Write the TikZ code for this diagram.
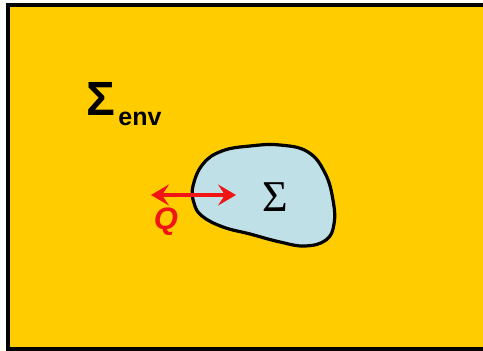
\documentclass[tikz,border=0pt]{standalone}
\usepackage{fontspec}
\setmainfont{Liberation Serif}
\setsansfont{Liberation Sans}
\definecolor{envYellow}{RGB}{255, 204, 0}
\definecolor{sysBlue}{RGB}{190, 224, 230}
\definecolor{heatRed}{RGB}{240, 20, 20}
\usetikzlibrary{arrows.meta, positioning}
\tikzset{
  envbox/.style={draw=black, line width=4pt, fill=envYellow},
  sysblob/.style={draw=black, line width=3.2pt, fill=sysBlue},
  heatarrow/.style={{Stealth[length=18pt, width=21pt, inset=7pt]}-{Stealth[length=18pt, width=21pt, inset=7pt]}, line width=3.5pt, heatRed},
  envlabel/.style={font=\sffamily\bfseries\fontsize{48}{50}\selectfont, inner sep=0pt},
  envsublabel/.style={font=\sffamily\bfseries\fontsize{25}{27}\selectfont, inner sep=0pt},
  syslabel/.style={font=\fontsize{44}{46}\selectfont, inner sep=0pt},
  heatlabel/.style={font=\sffamily\bfseries\itshape\fontsize{31}{33}\selectfont, text=heatRed, inner sep=0pt},
}
\begin{document}
\begin{tikzpicture}[x=1pt, y=-1pt]
  \useasboundingbox (0,0) rectangle (483,351);
  % environment
  \draw[envbox] (8,5) rectangle (495,349);
  % the system
  \draw[sysblob] plot[smooth cycle, tension=0.7] coordinates {
    (193,186) (203,164) (222,151) (250,146) (280,145)
    (308,152) (325,173) (333,200) (334,224) (326,240)
    (305,246) (280,242) (250,234) (223,227) (202,216) (194,203)};
  % labels
  \node[envlabel, anchor=base west] (envsig) at (86,115) {Σ};
  \node[envsublabel, anchor=base west] (envsub) at ([xshift=3pt, yshift=-10pt]envsig.base east) {env};
  \node[syslabel] (syssig) at (275,197) {Σ};
  % heat exchange
  \coordinate (qout) at (151,195);
  \coordinate (qin) at (236,195);
  \draw[heatarrow] (qout) -- (qin);
  \node[heatlabel] (qlab) at (166,222) {Q};
\end{tikzpicture}
\end{document}
